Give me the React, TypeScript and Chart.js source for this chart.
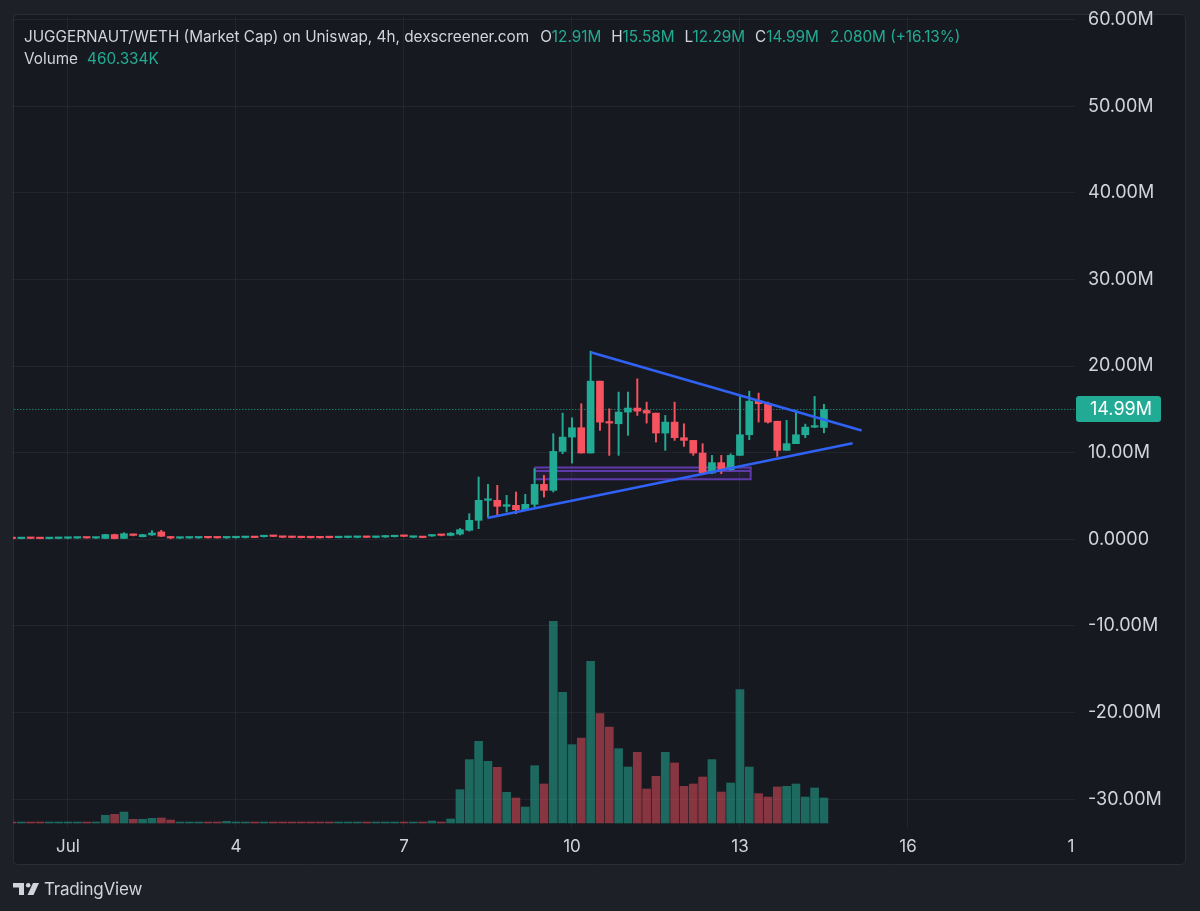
import React, { useEffect, useRef } from "react";
import { Chart, registerables } from "chart.js";

Chart.register(...registerables);

// ---------- data ----------
// 4h candles; slot 0 = Jul 1 00:00, one slot per 4h candle
const START_SLOT = -6;

const opens = [
  0.12, 0.08, 0.14, 0.12, 0.08, 0.10, 0.12, 0.14, 0.20, 0.14,
  0.10, 0.55, 0.10, 0.52, 0.30, 0.50, 0.85, 0.30, 0.13, 0.15,
  0.16, 0.22, 0.20, 0.16, 0.18, 0.20, 0.25, 0.30, 0.38, 0.27,
  0.25, 0.23, 0.22, 0.21, 0.22, 0.19, 0.21, 0.22, 0.26, 0.22,
  0.26, 0.30, 0.40, 0.24, 0.28, 0.38, 0.50, 0.45, 0.60, 1.04,
  2.19, 4.50, 4.50, 3.81, 3.92, 3.42, 4.04, 6.34, 5.65, 10.15,
  11.80, 12.88, 9.96, 18.26, 13.53, 13.34, 14.69, 15.15, 14.88, 14.57,
  12.27, 13.53, 11.73, 11.42, 9.96, 7.65, 8.85, 8.04, 9.69, 12.07,
  15.95, 15.65, 13.63, 10.27, 11.04, 12.07, 12.95, 12.91,
];
const highs = [
  0.14, 0.14, 0.16, 0.14, 0.12, 0.14, 0.16, 0.20, 0.22, 0.20,
  0.58, 0.60, 0.77, 0.60, 0.58, 1.00, 1.04, 0.35, 0.20, 0.22,
  0.22, 0.25, 0.24, 0.24, 0.24, 0.26, 0.28, 0.40, 0.42, 0.30,
  0.28, 0.26, 0.25, 0.24, 0.25, 0.26, 0.27, 0.28, 0.29, 0.28,
  0.45, 0.42, 0.44, 0.30, 0.30, 0.50, 0.52, 0.78, 1.25, 2.96,
  7.19, 6.34, 6.23, 5.07, 5.46, 5.19, 8.15, 7.38, 12.19, 14.57,
  14.03, 15.65, 21.72, 18.26, 15.07, 17.00, 17.00, 18.53, 15.84, 14.57,
  14.30, 15.84, 13.34, 11.42, 11.04, 9.69, 9.69, 9.88, 16.61, 17.10,
  16.88, 15.84, 13.63, 13.73, 14.88, 13.30, 16.49, 15.58,
];
const lows = [
  0.06, 0.06, 0.08, 0.06, 0.05, 0.06, 0.08, 0.10, 0.12, 0.10,
  0.08, 0.05, 0.08, 0.40, 0.28, 0.45, 0.30, 0.00, 0.10, 0.12,
  0.12, 0.14, 0.14, 0.12, 0.14, 0.16, 0.18, 0.26, 0.30, 0.20,
  0.18, 0.16, 0.15, 0.14, 0.16, 0.16, 0.17, 0.18, 0.19, 0.18,
  0.22, 0.26, 0.30, 0.20, 0.18, 0.34, 0.40, 0.40, 0.50, 0.95,
  1.23, 2.58, 2.77, 3.15, 2.96, 3.34, 3.73, 4.88, 5.46, 9.88,
  8.80, 9.96, 9.96, 12.57, 9.69, 9.69, 12.00, 14.30, 13.42, 11.23,
  10.27, 11.42, 10.73, 9.69, 7.58, 7.58, 7.58, 7.96, 9.69, 11.50,
  13.53, 13.42, 9.57, 10.27, 11.04, 11.73, 12.88, 12.29,
];
const closes = [
  0.08, 0.12, 0.10, 0.08, 0.11, 0.13, 0.15, 0.18, 0.15, 0.18,
  0.55, 0.08, 0.65, 0.45, 0.54, 0.73, 0.35, 0.15, 0.18, 0.20,
  0.20, 0.17, 0.16, 0.21, 0.22, 0.24, 0.20, 0.38, 0.33, 0.23,
  0.21, 0.19, 0.18, 0.17, 0.19, 0.23, 0.24, 0.25, 0.22, 0.26,
  0.32, 0.38, 0.34, 0.27, 0.20, 0.46, 0.45, 0.70, 1.11, 2.19,
  4.50, 4.57, 3.81, 4.00, 3.42, 4.04, 6.34, 5.65, 10.15, 11.80,
  12.88, 9.96, 18.26, 13.53, 13.42, 14.69, 15.15, 14.80, 14.57, 12.27,
  13.53, 11.73, 11.42, 9.96, 7.65, 8.85, 8.04, 9.69, 12.07, 15.95,
  15.65, 13.53, 10.27, 11.04, 12.07, 12.95, 13.03, 14.99,
];
// volume in thousands
const volumesK = [
  12, 10, 14, 12, 10, 10, 12, 12, 15, 14,
  142, 160, 202, 68, 68, 86, 92, 55, 14, 12,
  12, 15, 14, 30, 14, 12, 14, 16, 12, 10,
  14, 12, 12, 12, 14, 12, 10, 12, 14, 12,
  16, 18, 16, 12, 18, 37, 18, 74, 613, 1166,
  1503, 1135, 1025, 565, 460, 294, 1055, 718, 3711, 2405,
  1441, 1564, 2975, 2012, 1766, 1368, 1030, 1300, 626, 859,
  1300, 1104, 675, 718, 846, 1166, 570, 736, 2454, 1030,
  540, 478, 663, 675, 718, 478, 644, 460.334,
];

const timeTickSlots = [0, 18, 36, 54, 72, 90, 107.46];
const timeTickLabels = ["Jul", "4", "7", "10", "13", "16", "1"];
const priceTicks = [-30, -20, -10, 0, 10, 20, 30, 40, 50, 60];

const upperTrend = [
  { x: 56, y: 21.6 },
  { x: 85.04, y: 12.57 },
];
const lowerTrend = [
  { x: 44.93, y: 2.46 },
  { x: 84.07, y: 11.1 },
];
const zoneSlots = [50, 73.15];
const zoneLevels = [8.3, 7.88, 6.92];
const lastPrice = 14.99;

const titleText = "JUGGERNAUT/WETH (Market Cap) on Uniswap, 4h, dexscreener.com";
const ohlcKeys = ["O", "H", "L", "C"];
const ohlcValues = ["12.91M", "15.58M", "12.29M", "14.99M"];
const changeText = "2.080M (+16.13%)";
const volumeLabel = "Volume";
const volumeValue = "460.334K";

// ---------- style ----------
const FONT = "Inter, 'Noto Sans', 'DejaVu Sans', sans-serif";
const OUTER_BG = "#1e2028";
const PANEL_BG = "#171920";
const PANEL_BORDER = "#2a2d36";
const GRID = "rgba(255,255,255,0.055)";
const TEXT = "#d1d4dc";
const UP = "#22ab94";
const DOWN = "#f7525f";
const VOL_UP = "rgba(34,171,148,0.55)";
const VOL_DOWN = "rgba(247,82,95,0.5)";
const TREND = "#2f62f5";
const ZONE = "#5e3aa8";

const isUp = (i: number) => closes[i] >= opens[i];
const slotOf = (i: number) => START_SLOT + i;

const panelPlugin = {
  id: "panelBg",
  beforeDraw(chart: any) {
    const ctx = chart.ctx;
    ctx.save();
    ctx.fillStyle = OUTER_BG;
    ctx.fillRect(0, 0, chart.width, chart.height);
    ctx.beginPath();
    ctx.roundRect(13.5, 14.5, 1172, 850, 4);
    ctx.fillStyle = PANEL_BG;
    ctx.fill();
    ctx.strokeStyle = PANEL_BORDER;
    ctx.lineWidth = 1;
    ctx.stroke();
    ctx.restore();
  },
};

const priceTagPlugin = {
  id: "priceTag",
  afterDraw(chart: any) {
    const ctx = chart.ctx;
    const y = chart.scales.y.getPixelForValue(lastPrice);
    const x0 = chart.chartArea.right + 1;
    ctx.save();
    ctx.beginPath();
    ctx.roundRect(x0, Math.round(y) - 13, 85, 26, 3);
    ctx.fillStyle = UP;
    ctx.fill();
    ctx.fillStyle = "#ffffff";
    ctx.font = `18px ${FONT}`;
    ctx.textAlign = "left";
    ctx.textBaseline = "middle";
    ctx.fillText(lastPrice.toFixed(2) + "M", x0 + 14, Math.round(y) + 1);
    ctx.restore();
  },
};

function buildConfig(): any {
  const n = opens.length;
  const idx = Array.from({ length: n }, (_, i) => i);
  return {
    type: "bar",
    data: {
      datasets: [
        {
          type: "bar",
          label: "volume",
          yAxisID: "yv",
          data: idx.map((i) => ({ x: slotOf(i), y: volumesK[i] })),
          backgroundColor: idx.map((i) => (isUp(i) ? VOL_UP : VOL_DOWN)),
          barThickness: 8,
          minBarLength: 1,
          grouped: false,
          order: 10,
        },
        {
          type: "line",
          label: "zone",
          data: [
            { x: zoneSlots[0], y: zoneLevels[0] },
            { x: zoneSlots[1], y: zoneLevels[0] },
            { x: zoneSlots[1], y: zoneLevels[2] },
            { x: zoneSlots[0], y: zoneLevels[2] },
            { x: zoneSlots[0], y: zoneLevels[0] },
          ],
          borderColor: ZONE,
          borderWidth: 2,
          backgroundColor: "rgba(103,58,183,0.14)",
          fill: "shape",
          pointRadius: 0,
          tension: 0,
          order: 9,
        },
        {
          type: "line",
          label: "zoneMid",
          data: [
            { x: zoneSlots[0], y: zoneLevels[1] },
            { x: zoneSlots[1], y: zoneLevels[1] },
          ],
          borderColor: ZONE,
          borderWidth: 2,
          pointRadius: 0,
          order: 9,
        },
        {
          type: "line",
          label: "last",
          data: [
            { x: -8, y: lastPrice },
            { x: 110, y: lastPrice },
          ],
          borderColor: UP,
          borderWidth: 1,
          borderDash: [1, 2],
          pointRadius: 0,
          order: 8,
        },
        {
          type: "bar",
          label: "wick",
          data: idx.map((i) => ({ x: slotOf(i), y: [lows[i], highs[i]] })),
          backgroundColor: idx.map((i) => (isUp(i) ? UP : DOWN)),
          barThickness: 1.3,
          grouped: false,
          order: 3,
        },
        {
          type: "bar",
          label: "body",
          data: idx.map((i) => ({ x: slotOf(i), y: [opens[i], closes[i]] })),
          backgroundColor: idx.map((i) => (isUp(i) ? UP : DOWN)),
          barThickness: 7,
          minBarLength: 1.5,
          grouped: false,
          order: 2,
        },
        {
          type: "line",
          label: "upper",
          data: upperTrend,
          borderColor: TREND,
          borderWidth: 2.5,
          pointRadius: 0,
          order: 1,
        },
        {
          type: "line",
          label: "lower",
          data: lowerTrend,
          borderColor: TREND,
          borderWidth: 2.5,
          pointRadius: 0,
          order: 1,
        },
      ],
    },
    options: {
      responsive: false,
      devicePixelRatio: 1,
      animation: false,
      events: [],
      layout: { padding: { left: 13, right: 14, top: 17, bottom: 46 } },
      plugins: { legend: { display: false }, tooltip: { enabled: false } },
      scales: {
        x: {
          type: "linear",
          min: -5.89,
          max: 107.9,
          offset: false,
          grid: {
            offset: false,
            drawTicks: false,
            color: (c: any) => (c.tick && c.tick.value > 100 ? "rgba(0,0,0,0)" : GRID),
          },
          border: { display: false },
          afterBuildTicks: (s: any) => {
            s.ticks = timeTickSlots.map((v) => ({ value: v }));
          },
          afterFit: (s: any) => {
            s.height = 37;
          },
          ticks: {
            autoSkip: false,
            maxRotation: 0,
            padding: 9,
            color: TEXT,
            font: { family: FONT, size: 17 },
            callback: (_v: any, i: number) => timeTickLabels[i],
          },
        },
        y: {
          type: "linear",
          position: "right",
          min: -33.33,
          max: 60.3,
          grid: {
            drawTicks: true,
            tickLength: 13,
            tickColor: "rgba(0,0,0,0)",
            color: GRID,
          },
          border: { display: false },
          afterBuildTicks: (s: any) => {
            s.ticks = priceTicks.map((v) => ({ value: v }));
          },
          afterFit: (s: any) => {
            s.width = 111;
          },
          ticks: {
            padding: 0,
            crossAlign: "near",
            color: TEXT,
            font: { family: FONT, size: 18 },
            callback: (v: number) => (v === 0 ? "0.0000" : v.toFixed(2) + "M"),
          },
        },
        yv: {
          type: "linear",
          display: false,
          min: -92,
          max: 14830,
        },
      },
    },
    plugins: [panelPlugin, priceTagPlugin],
  };
}

function TvLogo() {
  return (
    <svg width="26" height="12" viewBox="0 0 26 12" style={{ display: "block" }}>
      <path d="M0 0 H11 V12 H6 V4.5 H0 Z" fill={TEXT} />
      <circle cx="15.2" cy="2.3" r="2.3" fill={TEXT} />
      <path d="M20 0 H26 L20.5 12 H14.5 Z" fill={TEXT} />
    </svg>
  );
}

export default function App() {
  const ref = useRef<HTMLCanvasElement | null>(null);
  useEffect(() => {
    if (!ref.current) return;
    const chart = new Chart(ref.current, buildConfig());
    return () => chart.destroy();
  }, []);

  const green = { color: UP };
  return (
    <div
      style={{
        position: "absolute",
        left: 0,
        top: 0,
        width: 1200,
        height: 911,
        overflow: "hidden",
        background: OUTER_BG,
        fontFamily: FONT,
      }}
    >
      <canvas ref={ref} width={1200} height={911} style={{ position: "absolute", left: 0, top: 0, width: 1200, height: 911 }} />
      <div
        style={{
          position: "absolute",
          left: 24,
          top: 26,
          fontSize: 15.3,
          lineHeight: "22px",
          color: TEXT,
          whiteSpace: "pre",
        }}
      >
        <div>
          <span>{titleText}</span>
          {ohlcKeys.map((k, i) => (
            <span key={k} style={{ marginLeft: i === 0 ? 11 : 10 }}>
              {k}
              <span style={green}>{ohlcValues[i]}</span>
            </span>
          ))}
          <span style={{ ...green, marginLeft: 11 }}>{changeText}</span>
        </div>
        <div>
          <span>{volumeLabel}</span>
          <span style={{ ...green, marginLeft: 9 }}>{volumeValue}</span>
        </div>
      </div>
      <div style={{ position: "absolute", left: 13, top: 879, display: "flex", alignItems: "center", gap: 5 }}>
        <TvLogo />
        <span style={{ fontSize: 17, color: TEXT, letterSpacing: -0.2 }}>TradingView</span>
      </div>
    </div>
  );
}
